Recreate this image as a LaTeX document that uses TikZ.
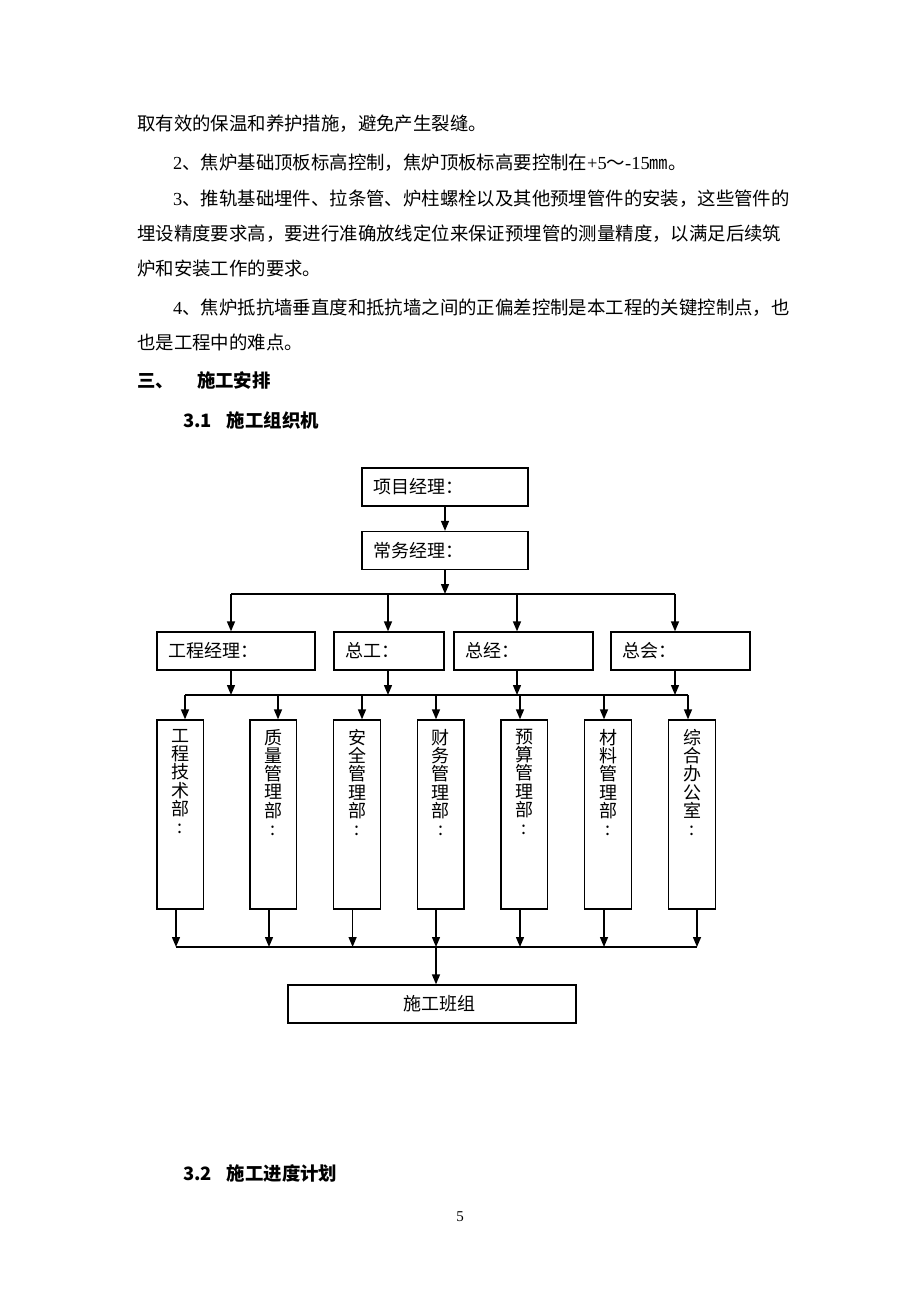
\documentclass[tikz,border=0pt]{standalone}
\usepackage{fontspec}
\setmainfont{Noto Sans CJK SC}
\newfontfamily\serifnum{Liberation Serif}
\usetikzlibrary{arrows.meta}
\begin{document}
\begin{tikzpicture}[x=1pt,y=-1pt,
  box/.style={draw, line width=1.3pt, inner sep=0pt},
  hbox/.style={box, minimum height=38pt, align=left, inner xsep=11.5pt,
    font=\fontsize{18}{20}\selectfont},
  vbox/.style={box, minimum width=46.5pt, minimum height=189pt},
  vtext/.style={anchor=north, align=center, inner sep=0pt,
    font=\fontsize{18}{18.3}\selectfont},
  ln/.style={line width=1.4pt},
  arr/.style={line width=1.4pt, -{Triangle[length=10pt,width=8pt]}},
  body/.style={anchor=base west, inner sep=0pt, font=\fontsize{18.4}{20}\selectfont},
  head/.style={anchor=base west, inner sep=0pt, font=\fontsize{18.4}{20}\selectfont\bfseries}
]
\useasboundingbox[fill=white] (0,0) rectangle (920,1302);

% body text
\node[body] (t1) at (137,130) {取有效的保温和养护措施，避免产生裂缝。};
\node[body] (t2) at (173,169) {{\serifnum 2}、焦炉基础顶板标高控制，焦炉顶板标高要控制在{\serifnum +5}～{\serifnum -15}㎜。};
\node[body] (t3) at (173,205) {{\serifnum 3}、推轨基础埋件、拉条管、炉柱螺栓以及其他预埋管件的安装，这些管件的};
\node[body] (t4) at (137,240) {埋设精度要求高，要进行准确放线定位来保证预埋管的测量精度，以满足后续筑};
\node[body] (t5) at (137,275) {炉和安装工作的要求。};
\node[body] (t6) at (173,314) {{\serifnum 4}、焦炉抵抗墙垂直度和抵抗墙之间的正偏差控制是本工程的关键控制点，也};
\node[body] (t7) at (137,349) {也是工程中的难点。};

% headings
\node[head] (h1) at (137,387) {\makebox[60pt][l]{三、}施工安排};
\node[head] (h2) at (183,427) {\makebox[43.7pt][l]{3.1}施工组织机};
\node[head] (h3) at (183,1180) {\makebox[43.7pt][l]{3.2}施工进度计划};
\node[inner sep=0pt, font=\serifnum\fontsize{15}{16}\selectfont] (pg) at (460,1217) {5};

% top boxes
\node[hbox, text width=143pt] (pm) at (445,487) {项目经理：};
\node[hbox, text width=143pt] (gm) at (445,550.5) {常务经理：};
\draw[arr] (pm.south) -- (gm.north);

% second level
\node[hbox, text width=135pt] (eng) at (236,651) {工程经理：};
\node[hbox, text width=87pt]  (zg)  at (389,651) {总工：};
\node[hbox, text width=116pt] (zj)  at (523.5,651) {总经：};
\node[hbox, text width=116pt] (zh)  at (680.5,651) {总会：};

\coordinate (bus1) at (445,594);
\coordinate (a1) at (231,594);
\coordinate (a2) at (388,594);
\coordinate (a3) at (517,594);
\coordinate (a4) at (675,594);
\draw[arr] (gm.south) -- (bus1);
\draw[ln] (a1) -- (a4);
\draw[arr] (a1) -- (a1 |- eng.north);
\draw[arr] (a2) -- (a2 |- zg.north);
\draw[arr] (a3) -- (a3 |- zj.north);
\draw[arr] (a4) -- (a4 |- zh.north);

% bus 2
\coordinate (c1) at (231,695);
\coordinate (c2) at (388,695);
\coordinate (c3) at (517,695);
\coordinate (c4) at (675,695);
\draw[arr] (c1 |- eng.south) -- (c1);
\draw[arr] (c2 |- zg.south) -- (c2);
\draw[arr] (c3 |- zj.south) -- (c3);
\draw[arr] (c4 |- zh.south) -- (c4);

% departments
\node[vbox] (d1) at (180.3,814.5) {};
\node[vbox] (d2) at (273.3,814.5) {};
\node[vbox] (d3) at (357,814.5) {};
\node[vbox] (d4) at (440.8,814.5) {};
\node[vbox] (d5) at (524.3,814.5) {};
\node[vbox] (d6) at (608,814.5) {};
\node[vbox] (d7) at (692,814.5) {};
\node[vtext] (d1t) at ([yshift=-9.5pt]d1.north) {工\\程\\技\\术\\部\\:};
\node[vtext] (d2t) at ([yshift=-9.5pt]d2.north) {质\\量\\管\\理\\部\\:};
\node[vtext] (d3t) at ([yshift=-9.5pt]d3.north) {安\\全\\管\\理\\部\\:};
\node[vtext] (d4t) at ([yshift=-9.5pt]d4.north) {财\\务\\管\\理\\部\\:};
\node[vtext] (d5t) at ([yshift=-9.5pt]d5.north) {预\\算\\管\\理\\部\\:};
\node[vtext] (d6t) at ([yshift=-9.5pt]d6.north) {材\\料\\管\\理\\部\\:};
\node[vtext] (d7t) at ([yshift=-9.5pt]d7.north) {综\\合\\办\\公\\室\\:};

\coordinate (e1) at (185,695);
\coordinate (e2) at (278,695);
\coordinate (e3) at (362,695);
\coordinate (e4) at (436,695);
\coordinate (e5) at (520,695);
\coordinate (e6) at (604,695);
\coordinate (e7) at (688,695);
\draw[ln] (e1) -- (e7);
\draw[arr] (e1) -- (e1 |- d1.north);
\draw[arr] (e2) -- (e2 |- d2.north);
\draw[arr] (e3) -- (e3 |- d3.north);
\draw[arr] (e4) -- (e4 |- d4.north);
\draw[arr] (e5) -- (e5 |- d5.north);
\draw[arr] (e6) -- (e6 |- d6.north);
\draw[arr] (e7) -- (e7 |- d7.north);

% bottom bus
\coordinate (f1) at (176,947);
\coordinate (f2) at (269,947);
\coordinate (f3) at (352.6,947);
\coordinate (f4) at (436,947);
\coordinate (f5) at (520,947);
\coordinate (f6) at (604,947);
\coordinate (f7) at (697,947);
\draw[ln] (f1) -- (f7);
\draw[arr] (f1 |- d1.south) -- (f1);
\draw[arr] (f2 |- d2.south) -- (f2);
\draw[arr] (f3 |- d3.south) -- (f3);
\draw[arr] (f4 |- d4.south) -- (f4);
\draw[arr] (f5 |- d5.south) -- (f5);
\draw[arr] (f6 |- d6.south) -- (f6);
\draw[arr] (f7 |- d7.south) -- (f7);

\node[box, minimum width=288pt, minimum height=38pt, font=\fontsize{18}{20}\selectfont] (team) at (432,1004) {\hspace*{14pt}施工班组};
\draw[arr] (f4) -- (f4 |- team.north);
\end{tikzpicture}
\end{document}
